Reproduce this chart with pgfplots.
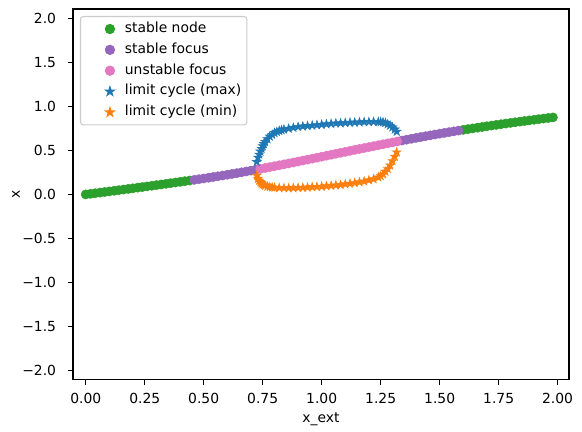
\documentclass[border=0pt]{standalone}
\usepackage{fontspec}
\setmainfont{DejaVu Sans}
\usepackage{pgfplots}
\pgfplotsset{compat=1.18}
\definecolor{tabgreen}{HTML}{2CA02C}
\definecolor{tabpurple}{HTML}{9467BD}
\definecolor{tabpink}{HTML}{E377C2}
\definecolor{tabblue}{HTML}{1F77B4}
\definecolor{taborange}{HTML}{FF7F0E}
\pgfdeclareplotmark{fstar}{%
 \pgfpathmoveto{\pgfpointpolar{90}{\pgfplotmarksize}}%
 \pgfpathlineto{\pgfpointpolar{126}{0.382\pgfplotmarksize}}%
 \pgfpathlineto{\pgfpointpolar{162}{\pgfplotmarksize}}%
 \pgfpathlineto{\pgfpointpolar{198}{0.382\pgfplotmarksize}}%
 \pgfpathlineto{\pgfpointpolar{234}{\pgfplotmarksize}}%
 \pgfpathlineto{\pgfpointpolar{270}{0.382\pgfplotmarksize}}%
 \pgfpathlineto{\pgfpointpolar{306}{\pgfplotmarksize}}%
 \pgfpathlineto{\pgfpointpolar{342}{0.382\pgfplotmarksize}}%
 \pgfpathlineto{\pgfpointpolar{18}{\pgfplotmarksize}}%
 \pgfpathlineto{\pgfpointpolar{54}{0.382\pgfplotmarksize}}%
 \pgfpathclose
 \pgfusepathqfillstroke}
\begin{document}
\begin{tikzpicture}
\begin{axis}[
  scale only axis,
  width=357.12pt, height=267pt,
  xmin=-0.054, xmax=2.048,
  ymin=-2.11, ymax=2.11,
  xtick={0,0.25,0.5,0.75,1,1.25,1.5,1.75,2},
  xticklabels={0.00,0.25,0.50,0.75,1.00,1.25,1.50,1.75,2.00},
  ytick={-2,-1.5,-1,-0.5,0,0.5,1,1.5,2},
  yticklabels={−2.0,−1.5,−1.0,−0.5,0.0,0.5,1.0,1.5,2.0},
  xtick pos=bottom, ytick pos=left,
  tick align=outside,
  major tick length=3.5pt,
  every tick/.style={black, line width=0.8pt},
  axis line style={line width=0.8pt},
  xticklabel style={inner sep=0pt, anchor=north, yshift=-6pt},
  yticklabel style={inner sep=0pt, anchor=east, xshift=-8.5pt},
  xlabel={x\_ext},
  ylabel={x},
  xlabel style={at={(axis description cs:0.5,-0.115)}, anchor=base, inner sep=0pt},
  ylabel style={at={(axis description cs:-0.1149,0.5)}, anchor=center, inner sep=0pt},
  legend cell align=left,
  legend image code/.code={\path (-9.6pt,0pt) (3.3pt,0pt); \draw[#1] plot coordinates {(7.2pt,0pt)};},
  legend style={at={(0,1)}, anchor=north west, xshift=5pt, yshift=-5pt,
    draw=black!20, line width=0.8pt, fill=white,
    rounded corners=2pt, inner xsep=4pt, inner ysep=4pt,
    row sep=5pt, column sep=7.5pt,
    nodes={inner sep=0pt, text height=7.5pt, text depth=2.5pt}},
]
\addplot[only marks, mark=*, mark size=3.3pt, color=tabgreen] coordinates {
(0.00,0.0000) (0.02,0.0068) (0.04,0.0137) (0.06,0.0206) (0.08,0.0275) (0.10,0.0344)
(0.12,0.0414) (0.14,0.0485) (0.16,0.0555) (0.18,0.0626) (0.20,0.0698) (0.22,0.0770)
(0.24,0.0842) (0.26,0.0914) (0.28,0.0987) (0.30,0.1060) (0.32,0.1133) (0.34,0.1207)
(0.36,0.1282) (0.38,0.1356) (0.40,0.1431) (0.42,0.1506) (0.44,0.1582)
(1.60,0.7350) (1.62,0.7433) (1.64,0.7516) (1.66,0.7598) (1.68,0.7678) (1.70,0.7758)
(1.72,0.7836) (1.74,0.7914) (1.76,0.7990) (1.78,0.8066) (1.80,0.8140) (1.82,0.8214)
(1.84,0.8286) (1.86,0.8358) (1.88,0.8428) (1.90,0.8498) (1.92,0.8566) (1.94,0.8634)
(1.96,0.8700) (1.98,0.8766)
};
\addlegendentry{stable node}
\addplot[only marks, mark=*, mark size=3.3pt, color=tabpurple] coordinates {
(0.46,0.1658) (0.48,0.1736) (0.50,0.1816) (0.52,0.1897) (0.54,0.1980) (0.56,0.2065)
(0.58,0.2152) (0.60,0.2240) (0.62,0.2330) (0.64,0.2422) (0.66,0.2516) (0.68,0.2612)
(0.70,0.2709) (0.72,0.2808)
(1.34,0.6128) (1.36,0.6231) (1.38,0.6333) (1.40,0.6433) (1.42,0.6532) (1.44,0.6629)
(1.46,0.6724) (1.48,0.6818) (1.50,0.6911) (1.52,0.7002) (1.54,0.7091) (1.56,0.7179)
(1.58,0.7265)
};
\addlegendentry{stable focus}
\addplot[only marks, mark=*, mark size=3.3pt, color=tabpink] coordinates {
(0.74,0.2908) (0.76,0.3010) (0.78,0.3112) (0.80,0.3215) (0.82,0.3319) (0.84,0.3423)
(0.86,0.3529) (0.88,0.3635) (0.90,0.3743) (0.92,0.3851) (0.94,0.3960) (0.96,0.4070)
(0.98,0.4180) (1.00,0.4292) (1.02,0.4404) (1.04,0.4515) (1.06,0.4626) (1.08,0.4736)
(1.10,0.4846) (1.12,0.4956) (1.14,0.5065) (1.16,0.5173) (1.18,0.5281) (1.20,0.5389)
(1.22,0.5496) (1.24,0.5602) (1.26,0.5708) (1.28,0.5814) (1.30,0.5919) (1.32,0.6024)
};
\addlegendentry{unstable focus}
\addplot[only marks, mark=fstar, mark size=3.3pt, color=tabblue] coordinates {
(0.725,0.370) (0.730,0.420) (0.735,0.455) (0.740,0.490) (0.745,0.520) (0.750,0.550)
(0.755,0.575) (0.760,0.600) (0.770,0.630) (0.780,0.660) (0.790,0.680) (0.800,0.700)
(0.810,0.713) (0.820,0.725) (0.830,0.733) (0.840,0.740) (0.860,0.750) (0.880,0.760)
(0.900,0.770) (0.920,0.775) (0.940,0.780) (0.960,0.785) (0.980,0.790) (1.000,0.795)
(1.020,0.800) (1.040,0.805) (1.060,0.810) (1.080,0.812) (1.100,0.815) (1.120,0.818)
(1.140,0.820) (1.160,0.822) (1.180,0.825) (1.200,0.826) (1.220,0.827) (1.240,0.826)
(1.250,0.825) (1.260,0.822) (1.270,0.815) (1.280,0.800) (1.290,0.785) (1.300,0.765)
(1.310,0.740) (1.318,0.715)
};
\addlegendentry{limit cycle (max)}
\addplot[only marks, mark=fstar, mark size=3.3pt, color=taborange] coordinates {
(0.725,0.215) (0.730,0.180) (0.735,0.158) (0.740,0.140) (0.745,0.126) (0.750,0.115)
(0.755,0.107) (0.760,0.100) (0.770,0.091) (0.780,0.085) (0.790,0.081) (0.800,0.078)
(0.820,0.075) (0.840,0.073) (0.860,0.073) (0.880,0.074) (0.900,0.076) (0.920,0.078)
(0.940,0.080) (0.960,0.083) (0.980,0.087) (1.000,0.090) (1.020,0.095) (1.040,0.100)
(1.060,0.105) (1.080,0.110) (1.100,0.117) (1.120,0.124) (1.140,0.132) (1.160,0.140)
(1.180,0.150) (1.200,0.162) (1.220,0.175) (1.240,0.195) (1.250,0.210) (1.260,0.230)
(1.270,0.260) (1.280,0.290) (1.290,0.330) (1.300,0.380) (1.310,0.430) (1.318,0.480)
};
\addlegendentry{limit cycle (min)}
\end{axis}
\pgfresetboundingbox
\path ([shift={(-52.56pt,-37.5pt)}]current axis.south west) rectangle ([shift={(9.4pt,6.5pt)}]current axis.north east);
\end{tikzpicture}
\end{document}
